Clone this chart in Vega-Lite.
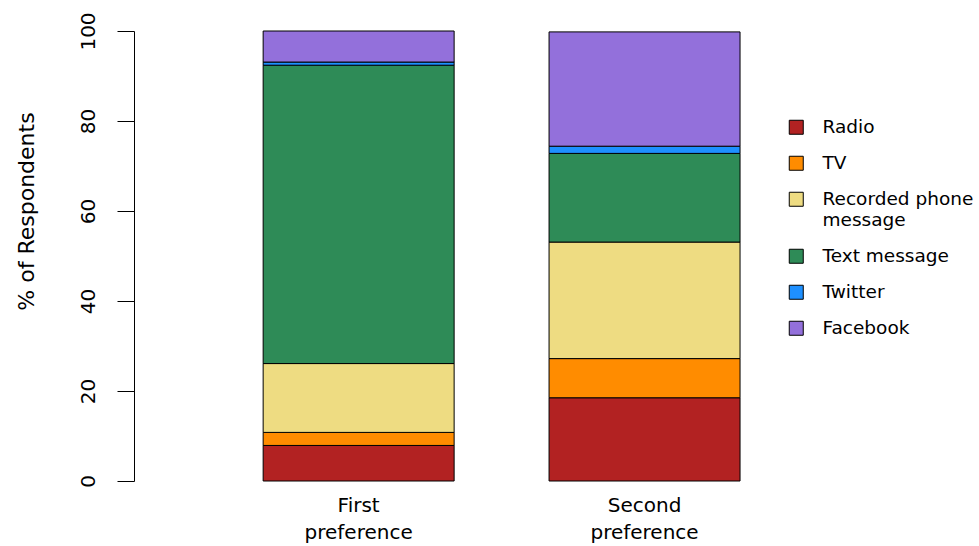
{
  "$schema": "https://vega.github.io/schema/vega-lite/v6.json",
  "width": 625,
  "height": 450,
  "autosize": {"type": "none"},
  "padding": {"left": 134, "top": 31, "right": 220, "bottom": 65},
  "background": "white",
  "config": {"view": {"stroke": null}, "font": "DejaVu Sans"},
  "data": {"values": [
    {"pref": "First preference", "medium": "Radio", "rank": 1, "pct": 7.9},
    {"pref": "First preference", "medium": "TV", "rank": 2, "pct": 2.9},
    {"pref": "First preference", "medium": "Recorded phone message", "rank": 3, "pct": 15.3},
    {"pref": "First preference", "medium": "Text message", "rank": 4, "pct": 66.3},
    {"pref": "First preference", "medium": "Twitter", "rank": 5, "pct": 0.7},
    {"pref": "First preference", "medium": "Facebook", "rank": 6, "pct": 6.9},
    {"pref": "Second preference", "medium": "Radio", "rank": 1, "pct": 18.5},
    {"pref": "Second preference", "medium": "TV", "rank": 2, "pct": 8.7},
    {"pref": "Second preference", "medium": "Recorded phone message", "rank": 3, "pct": 25.9},
    {"pref": "Second preference", "medium": "Text message", "rank": 4, "pct": 19.7},
    {"pref": "Second preference", "medium": "Twitter", "rank": 5, "pct": 1.6},
    {"pref": "Second preference", "medium": "Facebook", "rank": 6, "pct": 25.4}
  ]},
  "mark": {"type": "bar", "stroke": "black", "strokeWidth": 1},
  "encoding": {
    "x": {
      "field": "pref", "type": "nominal",
      "scale": {"paddingInner": 0.332, "paddingOuter": 0.259, "align": 0.872},
      "axis": {
        "title": null, "domain": false, "ticks": false, "labelAngle": 0,
        "labelExpr": "split(datum.label, ' ')",
        "labelFontSize": 20, "labelColor": "black", "labelPadding": 14,
        "labelLineHeight": 27, "labelBaseline": "top"
      }
    },
    "y": {
      "field": "pct", "type": "quantitative", "stack": "zero",
      "scale": {"domain": [0, 100], "nice": false},
      "axis": {
        "title": "% of Respondents", "titleFontSize": 22, "titleFontWeight": "normal",
        "titleColor": "black", "titlePadding": 40, "titleY": 180,
        "values": [0, 20, 40, 60, 80, 100], "grid": false,
        "domainColor": "black", "tickColor": "black", "tickSize": 17,
        "labelAngle": 270, "labelAlign": "center", "labelBaseline": "bottom",
        "labelFontSize": 20, "labelColor": "black", "labelPadding": 19
      }
    },
    "order": {"field": "rank", "type": "quantitative", "sort": "ascending"},
    "color": {
      "field": "medium", "type": "nominal",
      "scale": {
        "domain": ["Radio", "TV", "Recorded phone message", "Text message", "Twitter", "Facebook"],
        "range": ["#B22222", "#FF8C00", "#EEDC82", "#2E8B57", "#1E90FF", "#9370DB"]
      },
      "legend": {
        "title": null, "orient": "none", "legendX": 653, "legendY": 87,
        "symbolType": "square", "symbolSize": 196, "symbolStrokeColor": "black",
        "symbolStrokeWidth": 1, "symbolOpacity": 1,
        "labelFontSize": 18.5, "labelColor": "black", "labelOffset": 17,
        "labelLimit": 300, "rowPadding": 17, "labelLineHeight": 22,
        "labelExpr": "datum.label == 'Recorded phone message' ? ['Recorded phone', 'message'] : datum.label"
      }
    }
  }
}
